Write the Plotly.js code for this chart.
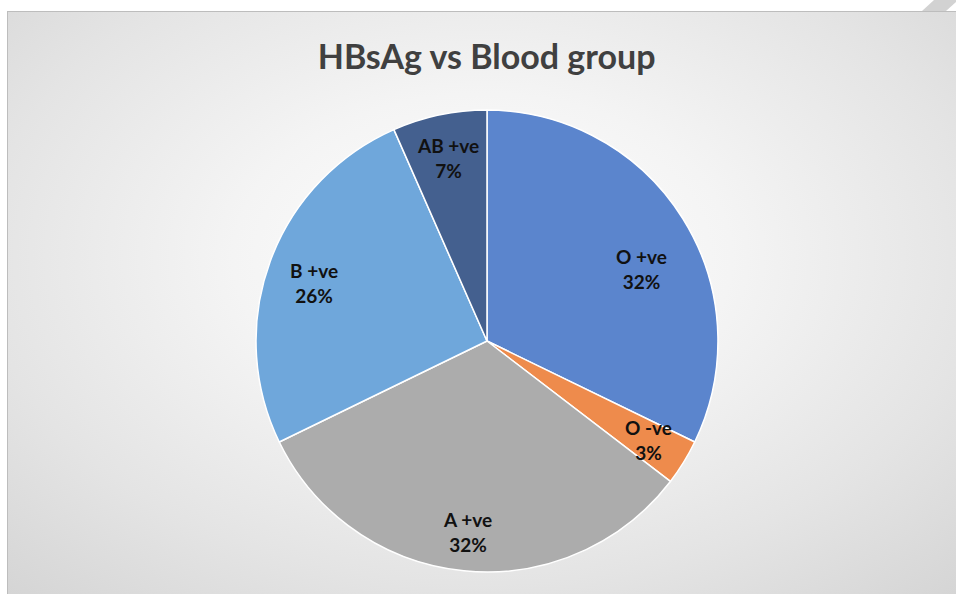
<!DOCTYPE html>
<html>
<head>
<meta charset="utf-8">
<script src="https://cdn.plot.ly/plotly-3.0.1.min.js"></script>
<style>
  html, body { margin: 0; padding: 0; background: #ffffff; }
  #wrap { position: relative; width: 956px; height: 594px; overflow: hidden; }
  #frame {
    position: absolute; left: 7px; top: 11px; width: 949px; height: 583px;
    border-top: 1px solid #bdbdbd; border-left: 1px solid #bdbdbd;
    background: radial-gradient(ellipse 75% 80% at 50% 42%, #ffffff 0%, #f4f4f4 35%, #e4e4e4 70%, #d4d4d4 100%);
  }
  #fold {
    position: absolute; left: 0; top: 0; width: 956px; height: 20px;
    background: #d2d2d2;
    clip-path: polygon(922px 11px, 946px 11px, 956px 2px, 956px 0px, 934px 0px);
  }
  #chart { position: absolute; left: 0; top: 0; width: 956px; height: 594px; }
</style>
</head>
<body>
<div id="wrap">
  <div id="frame"></div>
  <div id="fold"></div>
  <div id="chart"></div>
</div>
<script>
// Data
const categories = ["O +ve", "O -ve", "A +ve", "B +ve", "AB +ve"];
const values = [32.2, 3.2, 32.4, 25.6, 6.6];
const colors = ["#5b85cd", "#ee8b4c", "#acacac", "#6fa7db", "#44608f"];

// label placement (fraction of radius, angle nudge in degrees)
const labelRadius = [0.74, 0.82, 0.83, 0.79, 0.81];
const labelNudge = [7, 0, 0, -1.5, 0];

const W = 956, H = 594;
const domX = [0.2678, 0.7510];
const domY = [0.0370, 0.8148];
const cxPx = (domX[0] + domX[1]) / 2 * W;
const cyPx = (1 - (domY[0] + domY[1]) / 2) * H;
const R = Math.min((domX[1] - domX[0]) * W, (domY[1] - domY[0]) * H) / 2;

const total = values.reduce((a, b) => a + b, 0);
const annotations = [];
let cum = 0;
values.forEach((v, i) => {
  const mid = (cum + v / 2) / total * 360 + labelNudge[i];
  cum += v;
  const t = mid * Math.PI / 180;
  const r = labelRadius[i] * R;
  const px = cxPx + r * Math.sin(t);
  const py = cyPx - r * Math.cos(t);
  annotations.push({
    x: px / W, y: 1 - py / H, xref: "paper", yref: "paper",
    text: "<b>" + categories[i] + "<br>" + Math.round(v / total * 100) + "%</b>",
    showarrow: false, xanchor: "center", yanchor: "middle",
    font: { family: "Lato, 'Open Sans', sans-serif", size: 19, color: "#111111" }
  });
});

const trace = {
  type: "pie",
  labels: categories,
  values: values,
  sort: false,
  direction: "clockwise",
  rotation: 0,
  marker: { colors: colors, line: { color: "#ffffff", width: 1.5 } },
  textinfo: "none",
  hoverinfo: "label+percent",
  domain: { x: domX, y: domY },
  showlegend: false
};

const layout = {
  width: W, height: H,
  margin: { l: 0, r: 0, t: 0, b: 0 },
  paper_bgcolor: "rgba(0,0,0,0)",
  plot_bgcolor: "rgba(0,0,0,0)",
  title: {
    text: "<b>HBsAg vs Blood group</b>",
    x: 0.509, xanchor: "center", y: 0.904, yanchor: "middle",
    font: { family: "Lato, 'Open Sans', sans-serif", size: 34, color: "#404040" }
  },
  annotations: annotations,
  showlegend: false
};

Plotly.newPlot("chart", [trace], layout, { displayModeBar: false, staticPlot: true });
</script>
</body>
</html>
